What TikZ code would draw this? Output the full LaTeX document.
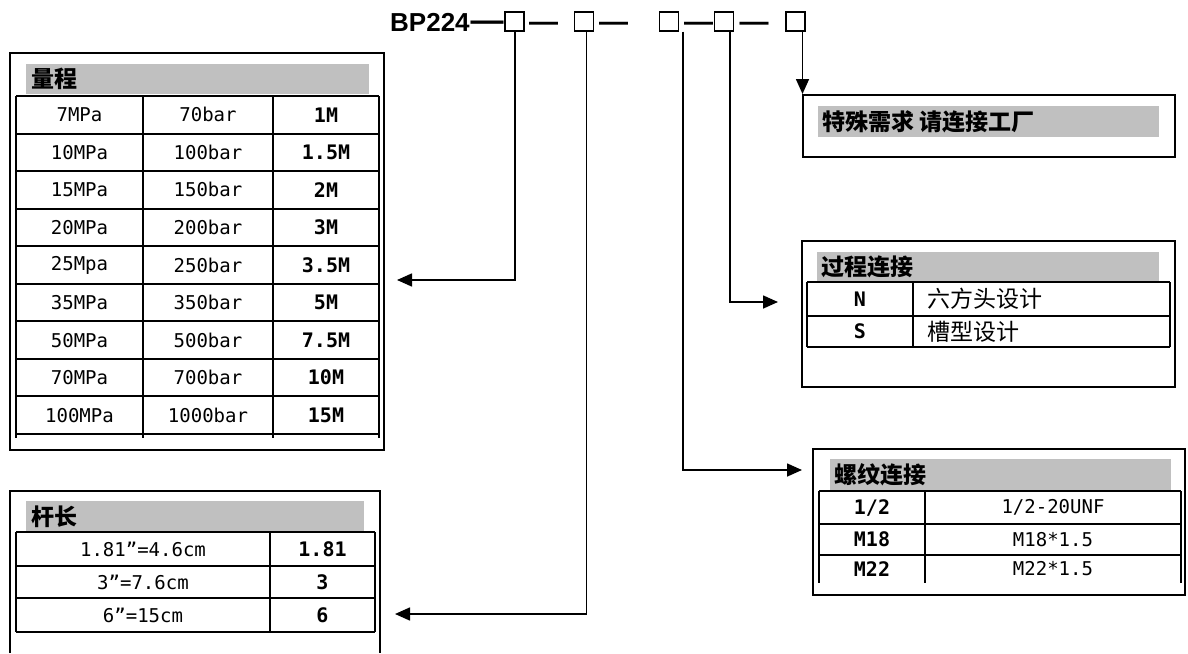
\documentclass[tikz,border=0pt]{standalone}
\usepackage{fontspec}
\setmainfont{Liberation Sans}
\newfontfamily\cjk{Noto Sans CJK SC}
\newfontfamily\mono{DejaVu Sans Mono}
\usetikzlibrary{arrows.meta}
\definecolor{hdr}{RGB}{192,192,192}
\tikzset{
 frame/.style={draw, line width=1.5pt},
 gridl/.style={line width=2pt},
 conn/.style={line width=1.6pt, -{Triangle[length=15pt,width=13pt]}},
 cell/.style={font=\mono\fontsize{19}{19}\selectfont, inner sep=0},
 code/.style={font=\mono\bfseries\fontsize{20}{20}\selectfont, inner sep=0},
 cjkcell/.style={font=\cjk\fontsize{23}{23}\selectfont, inner sep=0, anchor=west},
 htext/.style={font=\cjk\bfseries\fontsize{23}{23}\selectfont, anchor=west, inner sep=0},
 slot/.style={draw, line width=1.3pt, minimum size=19pt, inner sep=0},
 dashc/.style={font=\bfseries\fontsize{29}{29}\selectfont, inner sep=0, anchor=base}
}
\begin{document}
\begin{tikzpicture}[x=1pt,y=-1pt]
\useasboundingbox (0,0) rectangle (1188,653);

% ---------- title ----------
\node[anchor=base west, font=\bfseries\fontsize{26}{26}\selectfont, inner sep=0] (title) at (390,31.5) {BP224};
\node[dashc, font=\bfseries\fontsize{33}{33}\selectfont] (d0) at (487,31.5) {—};
\node[slot] (b1) at (514.5,21.5) {};
\node[dashc] (d1) at (543.5,31.5) {—};
\node[slot] (b2) at (584,21.5) {};
\node[dashc] (d2) at (613.5,31.5) {—};
\node[slot] (b3) at (669,21.5) {};
\node[dashc] (d3) at (698.5,31.5) {—};
\node[slot] (b4) at (724,21.5) {};
\node[dashc] (d4) at (754,31.5) {—};
\node[slot] (b5) at (795.5,21.5) {};

% ---------- range table ----------
\draw[frame] (10,53) rectangle (384,450);
\fill[hdr] (26,64) rectangle (369,94);
\node[htext] (hrange) at (31,79) {量程};
\foreach \i in {0,...,9} {\draw[gridl] (16,{96+37.56*\i}) -- (379,{96+37.56*\i});}
\foreach \x in {16,143,273,379} {\draw[gridl] (\x,96) -- (\x,438);}
\foreach \a/\b/\c [count=\i] in {7MPa/70bar/1M,10MPa/100bar/1.5M,15MPa/150bar/2M,20MPa/200bar/3M,25Mpa/250bar/3.5M,35MPa/350bar/5M,50MPa/500bar/7.5M,70MPa/700bar/10M,100MPa/1000bar/15M} {
  \node[cell] (ra\i) at (79.5,{96+37.56*(\i-0.5)}) {\a};
  \node[cell] (rb\i) at (208,{96+37.56*(\i-0.5)}) {\b};
  \node[code] (rc\i) at (326,{96+37.56*(\i-0.5)}) {\c};
}

% ---------- rod length table ----------
\draw[frame] (10,653) -- (10,491) -- (380,491) -- (380,653);
\fill[hdr] (26,501) rectangle (364,532);
\node[htext] (hrod) at (31,516.5) {杆长};
\foreach \y in {532,566,598,632} {\draw[gridl] (16,\y) -- (375,\y);}
\foreach \x in {16,270,375} {\draw[gridl] (\x,532) -- (\x,632);}
\node[cell] (la1) at (143,549) {1.81”=4.6cm};
\node[code] (lb1) at (322.5,549) {1.81};
\node[cell] (la2) at (143,582) {3”=7.6cm};
\node[code] (lb2) at (322.5,582) {3};
\node[cell] (la3) at (143,615) {6”=15cm};
\node[code] (lb3) at (322.5,615) {6};

% ---------- special requirement ----------
\draw[frame] (803,95) rectangle (1175,157);
\fill[hdr] (818,106) rectangle (1159,137);
\node[htext] (hspec) at (822,121.5) {特殊需求 请连接工厂};

% ---------- process connection ----------
\draw[frame] (802,241) rectangle (1175,387);
\fill[hdr] (817,252) rectangle (1159,282);
\node[htext] (hproc) at (821,267) {过程连接};
\foreach \y in {282,316,347} {\draw[gridl] (807,\y) -- (1170,\y);}
\foreach \x in {807,913,1170} {\draw[gridl] (\x,282) -- (\x,347);}
\node[code] (pa1) at (860,299) {N};
\node[cjkcell] (pb1) at (927,299) {六方头设计};
\node[code] (pa2) at (860,331.5) {S};
\node[cjkcell] (pb2) at (927,331.5) {槽型设计};

% ---------- thread connection ----------
\draw[frame] (813,449) rectangle (1185,595);
\fill[hdr] (830,459) rectangle (1171,491);
\node[htext] (hthr) at (834,475) {螺纹连接};
\foreach \y in {491,524,555} {\draw[gridl] (819,\y) -- (1181,\y);}
\foreach \x in {819,925,1181} {\draw[gridl] (\x,491) -- (\x,583);}
\node[code] (ta1) at (872,507.5) {1/2};
\node[cell] (tb1) at (1053,507.5) {1/2-20UNF};
\node[code] (ta2) at (872,539.5) {M18};
\node[cell] (tb2) at (1053,539.5) {M18*1.5};
\node[code] (ta3) at (872,569) {M22};
\node[cell] (tb3) at (1053,569) {M22*1.5};

% ---------- connectors ----------
\coordinate (t1) at (397,280);
\coordinate (t2) at (395,614);
\coordinate (t3) at (802,470);
\coordinate (t4) at (778,302);
\coordinate (t5) at (802.5,94);
\draw[conn] ([xshift=0.5pt]b1.south) |- (t1);
\draw[conn] ([xshift=2.5pt]b2.south) |- (t2);
\draw[conn] ([xshift=14pt]b3.south) |- (t3);
\draw[conn] ([xshift=6pt]b4.south) |- (t4);
\draw[conn] ([xshift=7pt]b5.south) -- (t5);
\end{tikzpicture}
\end{document}
